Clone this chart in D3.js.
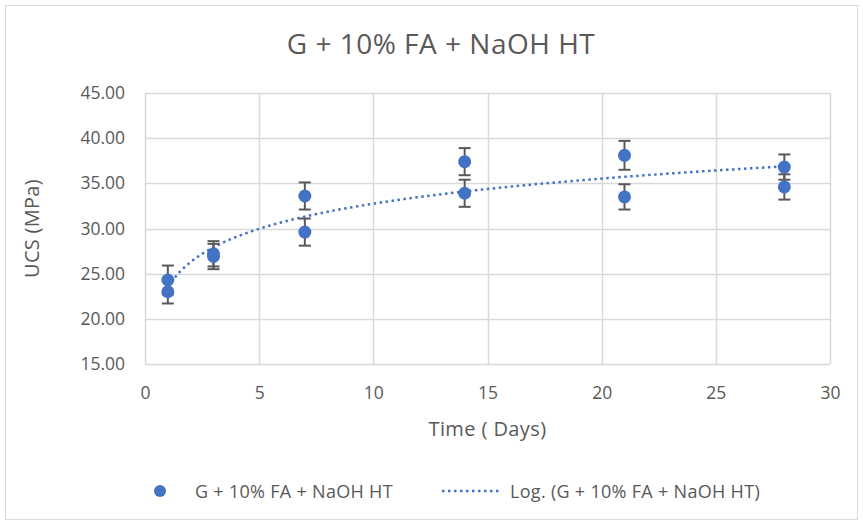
<!DOCTYPE html>
<html>
<head>
<meta charset="utf-8">
<script src="https://cdn.jsdelivr.net/npm/d3@7"></script>
<style>
  body { margin: 0; background: #fff; }
  text { font-family: "Open Sans", sans-serif; fill: #595959; }
</style>
</head>
<body>
<div id="chart"></div>
<script>
var width = 863;
var height = 525;

// measured values: curing time (days), UCS (MPa), error (MPa)
var days = [1, 1, 3, 3, 7, 7, 14, 14, 21, 21, 28, 28];
var ucs = [24.3, 23.0, 27.2, 26.9, 33.6, 29.6, 37.4, 33.9, 38.1, 33.5, 36.8, 34.6];
var err = [1.6, 1.3, 1.4, 1.4, 1.5, 1.5, 1.5, 1.5, 1.6, 1.4, 1.4, 1.4];
var xTicks = [0, 5, 10, 15, 20, 25, 30];
var yTicks = [15, 20, 25, 30, 35, 40, 45];
var seriesName = "G + 10% FA + NaOH HT";

var blue = "#4472C4";
var grid = "#d9d9d9";

var svg = d3.select("#chart")
  .append("svg")
    .attr("width", width)
    .attr("height", height);

// chart border
svg.append("rect")
  .attr("x", 5.5).attr("y", 5.5)
  .attr("width", width - 11).attr("height", height - 11)
  .attr("fill", "#fff")
  .attr("stroke", grid);

var x = d3.scaleLinear().domain([0, 30]).range([145, 830]);
var y = d3.scaleLinear().domain([15, 45]).range([364, 93]);

// gridlines
svg.append("g")
  .selectAll("line")
  .data(yTicks)
  .enter()
  .append("line")
    .attr("x1", x(0)).attr("x2", x(30))
    .attr("y1", d => Math.round(y(d)) + 0.5)
    .attr("y2", d => Math.round(y(d)) + 0.5)
    .attr("stroke", grid).attr("stroke-width", 1.5);
svg.append("g")
  .selectAll("line")
  .data(xTicks)
  .enter()
  .append("line")
    .attr("y1", y(15)).attr("y2", y(45))
    .attr("x1", d => Math.round(x(d)) + 0.5)
    .attr("x2", d => Math.round(x(d)) + 0.5)
    .attr("stroke", grid).attr("stroke-width", 1.5);

// axes (labels only)
var xAxis = svg.append("g")
  .attr("transform", "translate(0," + y(15) + ")")
  .call(d3.axisBottom(x).tickValues(xTicks).tickSize(0));
xAxis.selectAll("text").attr("dy", null).attr("y", 35);
var yAxis = svg.append("g")
  .attr("transform", "translate(" + x(0) + ",0)")
  .call(d3.axisLeft(y).tickValues(yTicks).tickSize(0).tickPadding(20).tickFormat(d3.format(".2f")));
[xAxis, yAxis].forEach(function(a){
  a.select(".domain").remove();
  a.selectAll("text")
    .style("font-family", "'Open Sans', sans-serif")
    .style("font-size", "17.5px")
    .attr("fill", "#595959");
});

// title and axis titles
svg.append("text")
  .attr("x", 441).attr("y", 54)
  .attr("text-anchor", "middle")
  .style("font-size", "28px")
  .style("letter-spacing", "0.5px")
  .text(seriesName);
svg.append("text")
  .attr("x", x(15)).attr("y", 436)
  .attr("text-anchor", "middle")
  .style("font-size", "20px")
  .style("letter-spacing", "0.4px")
  .text("Time ( Days)");
svg.append("text")
  .attr("transform", "translate(39," + y(30) + ") rotate(-90)")
  .attr("text-anchor", "middle")
  .style("font-size", "20px")
  .style("letter-spacing", "0.3px")
  .text("UCS (MPa)");

// logarithmic trendline (least squares on ln(x))
var lx = days.map(d => Math.log(d));
var mx = d3.mean(lx), my = d3.mean(ucs);
var sxy = d3.sum(lx, (v, i) => (v - mx) * (ucs[i] - my));
var sxx = d3.sum(lx, v => (v - mx) * (v - mx));
var b = sxy / sxx, a = my - b * mx;
var trendX = d3.range(1, 28.01, 0.25);
var line = d3.line()
  .x(d => x(d))
  .y(d => y(a + b * Math.log(d)));
svg.append("path")
  .datum(trendX)
  .attr("d", line)
  .attr("fill", "none")
  .attr("stroke", blue)
  .attr("stroke-width", 2.5)
  .attr("stroke-dasharray", "2.5,3.5");

var pts = days.map((d, i) => ({day: d, v: ucs[i], e: err[i]}));

// error bars
var eb = svg.append("g")
  .selectAll("g")
  .data(pts)
  .enter()
  .append("g")
    .attr("stroke", "#595959")
    .attr("stroke-width", 2);
eb.append("line")
  .attr("x1", d => x(d.day)).attr("x2", d => x(d.day))
  .attr("y1", d => y(d.v - d.e)).attr("y2", d => y(d.v + d.e));
eb.append("line")
  .attr("x1", d => x(d.day) - 6).attr("x2", d => x(d.day) + 6)
  .attr("y1", d => y(d.v + d.e)).attr("y2", d => y(d.v + d.e));
eb.append("line")
  .attr("x1", d => x(d.day) - 6).attr("x2", d => x(d.day) + 6)
  .attr("y1", d => y(d.v - d.e)).attr("y2", d => y(d.v - d.e));

// markers
svg.append("g")
  .selectAll("circle")
  .data(pts)
  .enter()
  .append("circle")
    .attr("cx", d => x(d.day))
    .attr("cy", d => y(d.v))
    .attr("r", 6.5)
    .attr("fill", blue);

// legend
var lg = svg.append("g").attr("transform", "translate(0,491)");
lg.append("circle").attr("cx", 160).attr("cy", 0).attr("r", 6).attr("fill", blue);
lg.append("text").attr("x", 195).attr("y", 6.5)
  .style("font-size", "18px").style("letter-spacing", "0.3px")
  .text(seriesName);
lg.append("line")
  .attr("x1", 442).attr("x2", 499).attr("y1", 0).attr("y2", 0)
  .attr("stroke", blue).attr("stroke-width", 2.5)
  .attr("stroke-dasharray", "2.5,3.5");
lg.append("text").attr("x", 510).attr("y", 6.5)
  .style("font-size", "18px").style("letter-spacing", "0.3px")
  .text("Log. (" + seriesName + ")");
</script>
</body>
</html>
